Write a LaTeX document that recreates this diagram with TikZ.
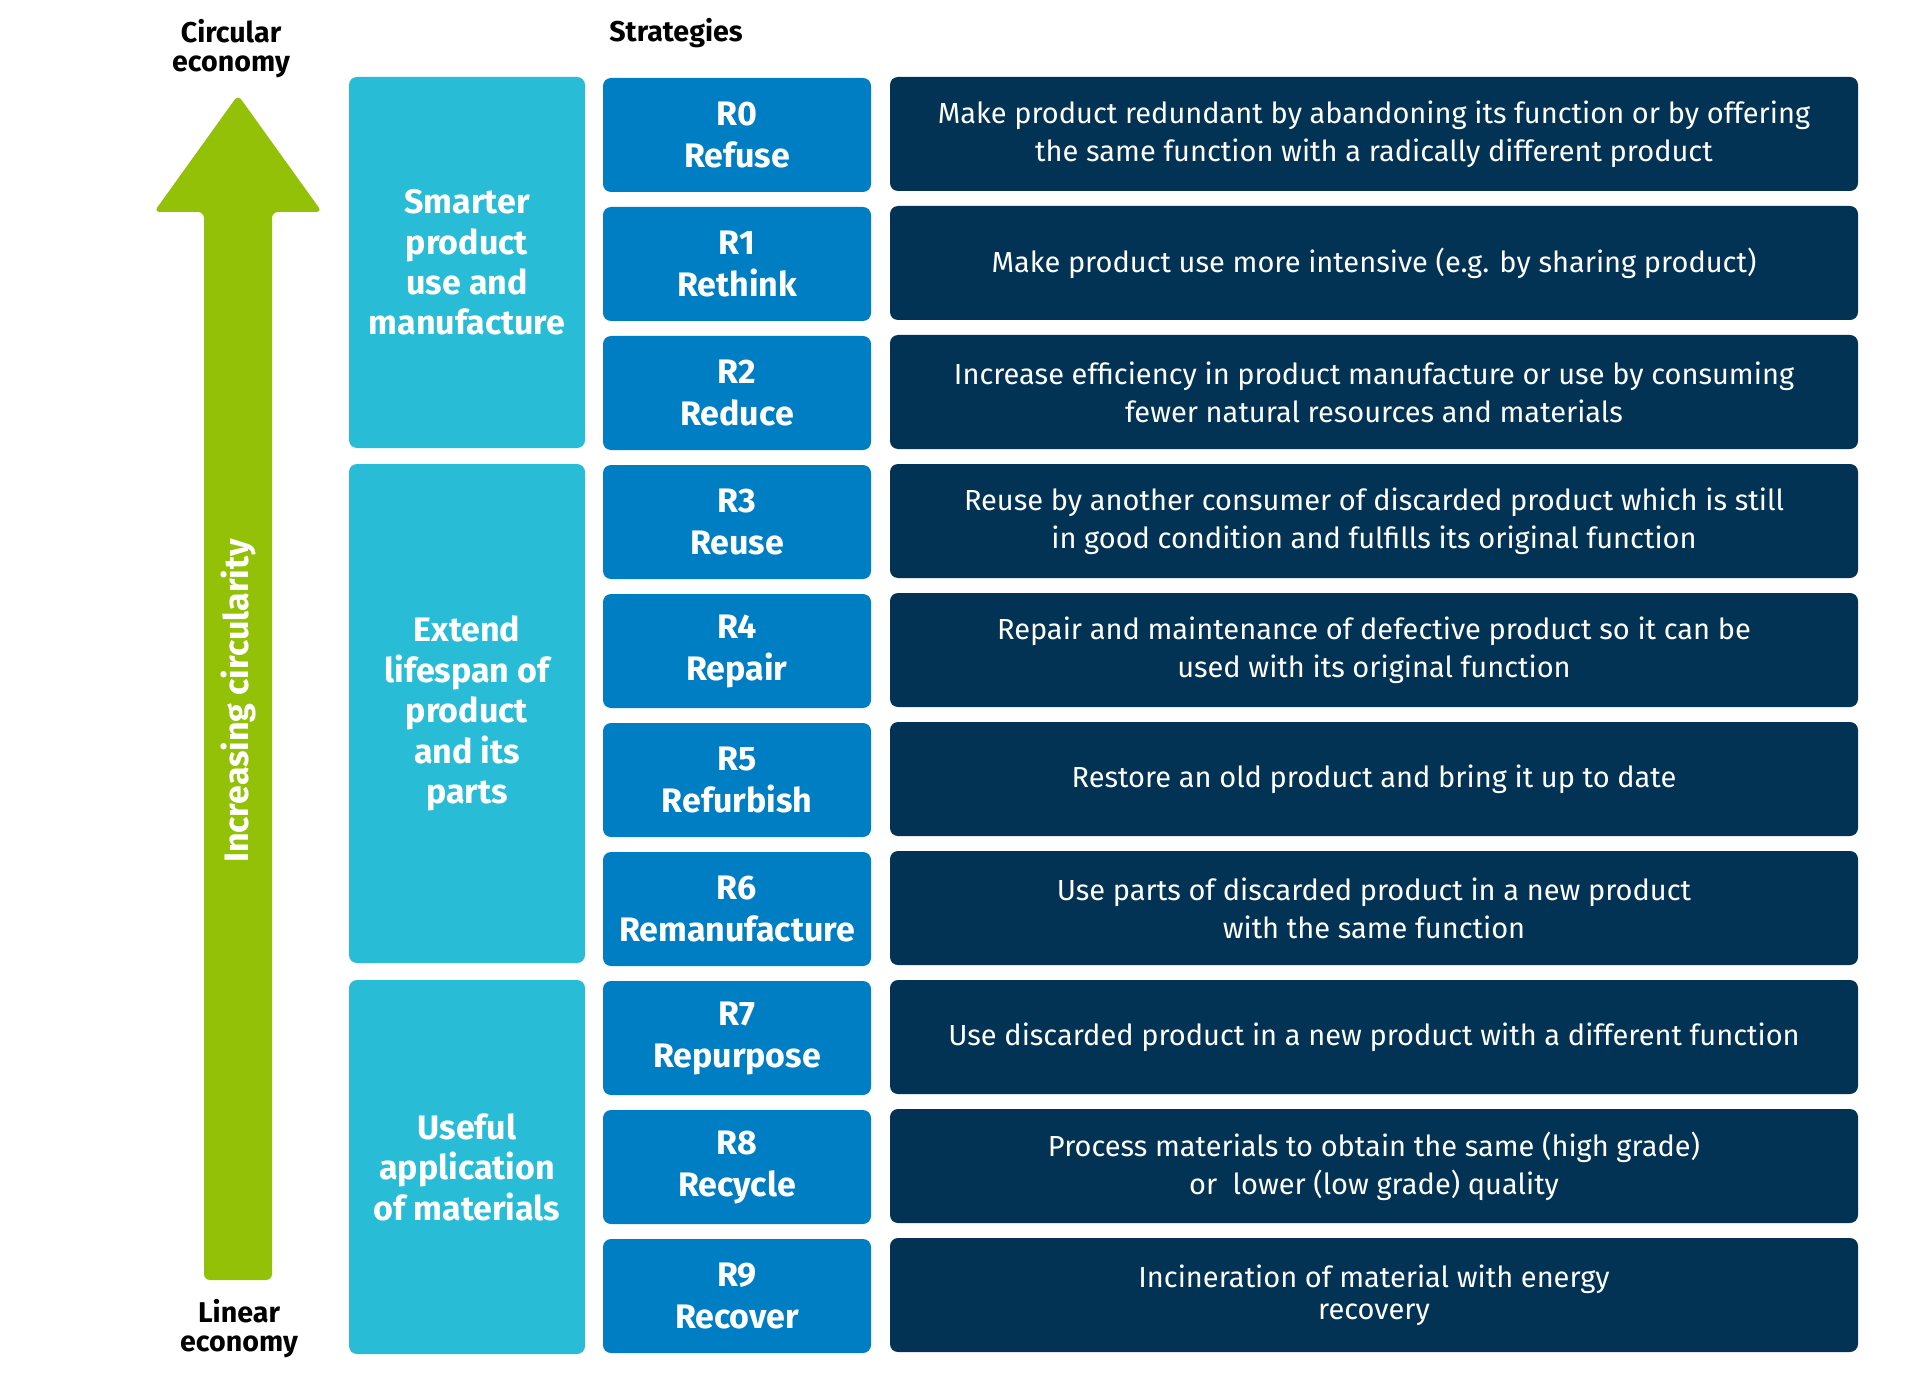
\documentclass[tikz,border=0pt]{standalone}
\usepackage{fontspec}
\setmainfont{Fira Sans}
\usepackage{tikz}
\usetikzlibrary{positioning}
\definecolor{catcyan}{HTML}{29BCD6}
\definecolor{stratblue}{HTML}{007EC3}
\definecolor{descnavy}{HTML}{023355}
\definecolor{arrowgreen}{HTML}{92C108}
\tikzset{
  catbox/.style={fill=catcyan, rounded corners=4pt, text=white, align=center,
    minimum width=118pt, inner sep=0pt, font=\bfseries\fontsize{17}{20.2}\selectfont},
  stratbox/.style={fill=stratblue, rounded corners=4pt, text=white, align=center,
    minimum width=134pt, minimum height=57pt, inner sep=0pt, font=\bfseries\fontsize{17}{21}\selectfont},
  descbox/.style={fill=descnavy, rounded corners=4pt, text=white, align=center,
    minimum width=484pt, minimum height=57pt, inner sep=0pt, font=\fontsize{14.5}{19}\selectfont},
  headlabel/.style={align=center, inner sep=0pt, font=\bfseries\fontsize{14.3}{14.5}\selectfont},
}
% one row: number, strategy, description
\newcommand{\rrow}[3]{
  \node[stratbox] (s#1) at (737,{135+129*#1}) {R#1\\#2};
  \node[descbox] (d#1) at (1374,{134+129*#1}) {#3};}
\begin{document}
\begin{tikzpicture}[x=0.5pt, y={(0pt,-0.5pt)}]
\useasboundingbox (0,0) rectangle (1920,1390);
% arrow
\fill[arrowgreen, rounded corners=3pt] (238,95) -- (322,212) -- (272,212) -- (272,1280)
  -- (204,1280) -- (204,212) -- (154,212) -- cycle;
\node[rotate=90, text=white, inner sep=0pt, font=\bfseries\fontsize{17}{18}\selectfont] (circ) at (238,701) {Increasing circularity};
% headers
\node[headlabel] (top) at (231,49) {Circular\\economy};
\node[headlabel] (bottom) at (239,1329) {Linear\\economy};
\node[headlabel] (strat) at (676,33) {Strategies};
% categories
\node[catbox, minimum height=185.5pt] (c1) at (467,262.5) {Smarter\\product\\use and\\manufacture};
\node[catbox, minimum height=249.5pt] (c2) at (467,713.5) {Extend\\lifespan of\\product\\and its\\parts};
\node[catbox, minimum height=187pt] (c3) at (467,1167) {Useful\\application\\of materials};
% rows
\rrow{0}{Refuse}{Make product redundant by abandoning its function or by offering\\the same function with a radically different product}
\rrow{1}{Rethink}{Make product use more intensive (e.g. by sharing product)}
\rrow{2}{Reduce}{Increase efficiency in product manufacture or use by consuming\\fewer natural resources and materials}
\rrow{3}{Reuse}{Reuse by another consumer of discarded product which is still\\in good condition and fulfills its original function}
\rrow{4}{Repair}{Repair and maintenance of defective product so it can be\\used with its original function}
\rrow{5}{Refurbish}{Restore an old product and bring it up to date}
\rrow{6}{Remanufacture}{Use parts of discarded product in a new product\\with the same function}
\rrow{7}{Repurpose}{Use discarded product in a new product with a different function}
\rrow{8}{Recycle}{Process materials to obtain the same (high grade)\\or~ lower (low grade) quality}
\rrow{9}{Recover}{Incineration of material with energy\\[-3pt]recovery}
\end{tikzpicture}
\end{document}
